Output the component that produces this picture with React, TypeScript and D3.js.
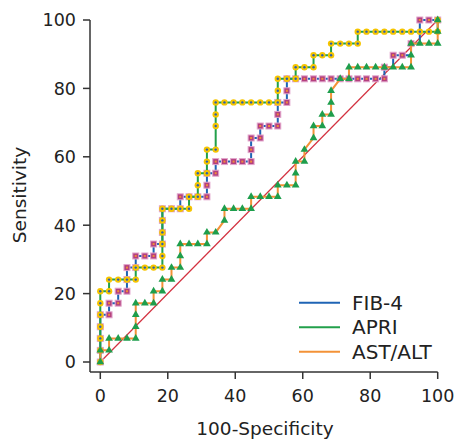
import React from 'react';
import * as d3 from 'd3';

// ROC points: 100-specificity (%) and sensitivity (%)
const fib4Spec = [0, 0, 0, 0, 0, 2.6, 2.6, 5.3, 5.3, 7.9, 7.9, 7.9, 10.5, 10.5, 13.2, 15.8, 15.8, 18.4, 18.4, 18.4, 18.4, 21.1, 23.7, 23.7, 26.3, 28.9, 31.6, 31.6, 31.6, 34.2, 34.2, 36.8, 39.5, 42.1, 44.7, 44.7, 44.7, 47.4, 47.4, 50.0, 52.6, 52.6, 52.6, 55.3, 55.3, 55.3, 57.9, 60.5, 63.2, 65.8, 68.4, 71.1, 73.7, 76.3, 78.9, 81.6, 84.2, 84.2, 86.8, 89.5, 92.1, 94.7, 97.4, 100];
const fib4Sens = [0, 3.4, 6.9, 10.3, 13.8, 13.8, 17.2, 17.2, 20.7, 20.7, 24.1, 27.6, 27.6, 31.0, 31.0, 31.0, 34.5, 34.5, 37.9, 41.4, 44.8, 44.8, 44.8, 48.3, 48.3, 48.3, 48.3, 51.7, 55.2, 55.2, 58.6, 58.6, 58.6, 58.6, 58.6, 62.1, 65.5, 65.5, 69.0, 69.0, 69.0, 72.4, 75.9, 75.9, 79.3, 82.8, 82.8, 82.8, 82.8, 82.8, 82.8, 82.8, 82.8, 82.8, 82.8, 82.8, 82.8, 86.2, 89.7, 89.7, 93.1, 100, 100, 100];

const apriSpec = [0, 0, 0, 0, 0, 0, 0, 2.6, 2.6, 5.3, 7.9, 10.5, 10.5, 13.2, 15.8, 18.4, 18.4, 18.4, 18.4, 18.4, 18.4, 21.1, 23.7, 26.3, 26.3, 28.9, 28.9, 28.9, 31.6, 31.6, 31.6, 34.2, 34.2, 34.2, 34.2, 36.8, 39.5, 42.1, 44.7, 47.4, 50.0, 52.6, 52.6, 52.6, 55.3, 57.9, 57.9, 60.5, 63.2, 63.2, 65.8, 68.4, 68.4, 71.1, 73.7, 76.3, 76.3, 78.9, 81.6, 84.2, 86.8, 89.5, 92.1, 94.7, 97.4, 100, 100];
const apriSens = [0, 3.4, 6.9, 10.3, 13.8, 17.2, 20.7, 20.7, 24.1, 24.1, 24.1, 24.1, 27.6, 27.6, 27.6, 27.6, 31.0, 34.5, 37.9, 41.4, 44.8, 44.8, 44.8, 44.8, 48.3, 48.3, 51.7, 55.2, 55.2, 58.6, 62.1, 62.1, 69.0, 72.4, 75.9, 75.9, 75.9, 75.9, 75.9, 75.9, 75.9, 75.9, 79.3, 82.8, 82.8, 82.8, 86.2, 86.2, 86.2, 89.7, 89.7, 89.7, 93.1, 93.1, 93.1, 93.1, 96.6, 96.6, 96.6, 96.6, 96.6, 96.6, 96.6, 96.6, 96.6, 96.6, 100];

const astSpec = [0, 0, 2.6, 2.6, 5.3, 7.9, 10.5, 10.5, 10.5, 10.5, 13.2, 15.8, 15.8, 18.4, 18.4, 21.1, 21.1, 23.7, 23.7, 23.7, 26.3, 28.9, 31.6, 31.6, 34.2, 36.8, 36.8, 39.5, 42.1, 44.7, 44.7, 47.4, 50.0, 52.6, 52.6, 55.3, 57.9, 57.9, 57.9, 60.5, 60.5, 63.2, 63.2, 65.8, 65.8, 68.4, 68.4, 68.4, 71.1, 73.7, 73.7, 76.3, 78.9, 81.6, 84.2, 86.8, 89.5, 92.1, 92.1, 92.1, 94.7, 97.4, 100, 100, 100];
const astSens = [0, 3.4, 3.4, 6.9, 6.9, 6.9, 6.9, 10.3, 13.8, 17.2, 17.2, 17.2, 20.7, 20.7, 24.1, 24.1, 27.6, 27.6, 31.0, 34.5, 34.5, 34.5, 34.5, 37.9, 37.9, 41.4, 44.8, 44.8, 44.8, 44.8, 48.3, 48.3, 48.3, 48.3, 51.7, 51.7, 51.7, 55.2, 58.6, 58.6, 62.1, 65.5, 69.0, 69.0, 72.4, 72.4, 75.9, 79.3, 82.8, 82.8, 86.2, 86.2, 86.2, 86.2, 86.2, 86.2, 86.2, 86.2, 89.7, 93.1, 93.1, 93.1, 93.1, 96.6, 100];

const xTicks = [0, 20, 40, 60, 80, 100];
const yTicks = [0, 20, 40, 60, 80, 100];
const seriesNames = ['FIB-4', 'APRI', 'AST/ALT'];
const seriesColors = ['#1f64b5', '#22a04b', '#f39237'];

const W = 456, H = 439;
const FONT = '"DejaVu Sans", sans-serif';

const x = d3.scaleLinear().domain([0, 100]).range([100.3, 437.7]);
const y = d3.scaleLinear().domain([0, 100]).range([362, 20]);

const zip = (a: number[], b: number[]) => a.map((v, i) => [v, b[i]] as [number, number]);

const fib4 = zip(fib4Spec, fib4Sens);
const apri = zip(apriSpec, apriSens);
const ast = zip(astSpec, astSens);

const stepLine = d3.line<[number, number]>().x(d => x(d[0])).y(d => y(d[1])).curve(d3.curveStepAfter);
const straightLine = d3.line<[number, number]>().x(d => x(d[0])).y(d => y(d[1]));
const tri = d3.symbol().type(d3.symbolTriangle).size(26)();

export default function App() {
  const axisX = 90, axisY = 372;
  return (
    <svg width={W} height={H} style={{ position: 'absolute', left: 0, top: 0, background: '#fff' }} fontFamily={FONT}>
      {/* chance line */}
      <line x1={x(0)} y1={y(0)} x2={x(100)} y2={y(100)} stroke="#d3313f" strokeWidth={1.2} />

      {/* FIB-4 */}
      <path d={stepLine(fib4) || ''} fill="none" stroke={seriesColors[0]} strokeWidth={2} />
      {fib4.map((d, i) => (
        <g key={'f' + i} transform={`translate(${x(d[0])},${y(d[1])})`}>
          <rect x={-3} y={-3} width={6} height={6} fill="#b3407f" stroke="#e2a6cc" strokeWidth={1} />
          <rect x={-1} y={-1} width={2} height={2} fill="#f08a3a" />
        </g>
      ))}

      {/* APRI */}
      <path d={stepLine(apri) || ''} fill="none" stroke={seriesColors[1]} strokeWidth={2} />
      {apri.map((d, i) => (
        <g key={'a' + i} transform={`translate(${x(d[0])},${y(d[1])})`}>
          <circle r={3.2} fill="#f6c500" />
          <circle r={1.2} fill="#2a5db0" />
        </g>
      ))}

      {/* AST/ALT */}
      <path d={straightLine(ast) || ''} fill="none" stroke={seriesColors[2]} strokeWidth={2} />
      {ast.map((d, i) => (
        <path key={'t' + i} d={tri || ''} transform={`translate(${x(d[0])},${y(d[1])})`} fill="#1e9e4c" />
      ))}

      {/* axes */}
      <g stroke="#333" strokeWidth={1.5} fill="none">
        <line x1={axisX} y1={y(100)} x2={axisX} y2={axisY} />
        <line x1={axisX} y1={axisY} x2={x(100)} y2={axisY} />
        {yTicks.map(t => (
          <line key={'yt' + t} x1={axisX - 7} x2={axisX} y1={y(t)} y2={y(t)} />
        ))}
        {xTicks.map(t => (
          <line key={'xt' + t} x1={x(t)} x2={x(t)} y1={axisY} y2={axisY + 7} />
        ))}
      </g>
      {yTicks.map(t => (
        <text key={'yl' + t} x={76} y={y(t)} dy="0.36em" textAnchor="end" fontSize={17.5} fill="#222">{t}</text>
      ))}
      {xTicks.map(t => (
        <text key={'xl' + t} x={x(t)} y={402} textAnchor="middle" fontSize={17.5} fill="#222">{t}</text>
      ))}
      <text x={265} y={435} textAnchor="middle" fontSize={18.5} fill="#222">100-Specificity</text>
      <text transform="translate(26,195) rotate(-90)" textAnchor="middle" fontSize={18.5} fill="#222">Sensitivity</text>

      {/* legend */}
      {seriesNames.map((name, i) => (
        <g key={name} transform={`translate(299,${302.7 + i * 24.5})`}>
          <line x1={0} x2={41} y1={0} y2={0} stroke={seriesColors[i]} strokeWidth={2} />
          <text x={53} y={0} dy="0.36em" fontSize={20} fill="#222">{name}</text>
        </g>
      ))}
    </svg>
  );
}
